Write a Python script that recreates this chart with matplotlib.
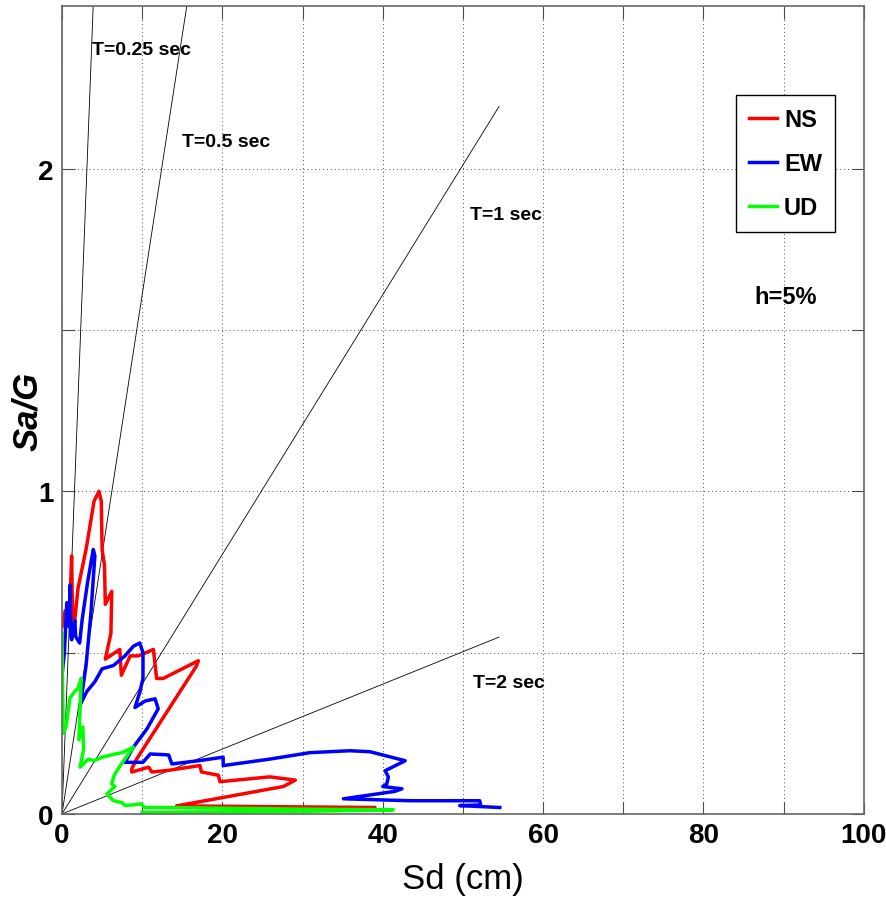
import numpy as np
import matplotlib
matplotlib.use('Agg')
import matplotlib.pyplot as plt

plt.rcParams['font.family'] = ['Liberation Sans', 'DejaVu Sans']

# response spectra (Sd in cm, Sa in g)
ns_sd = [0, 0.4, 0.7, 1.0, 1.2, 1.3, 1.5, 2.0, 3.0, 4.0, 4.6, 4.9, 5.0, 5.3, 5.4, 6.2,
         6.1, 5.4, 7.2, 7.4, 8.5, 9.5, 11.4, 11.8, 12.6, 17.0, 16.8, 9.3, 8.7, 8.7,
         10.8, 11.2, 13.2, 17.2, 17.4, 19.5, 19.7, 25.9, 29.1, 27.6, 14.3, 39.0]
ns_sa = [0.58, 0.63, 0.60, 0.65, 0.80, 0.64, 0.58, 0.70, 0.82, 0.97, 1.00, 0.97, 0.82,
         0.77, 0.65, 0.69, 0.56, 0.48, 0.51, 0.43, 0.49, 0.49, 0.51, 0.42, 0.42, 0.475,
         0.46, 0.17, 0.14, 0.13, 0.145, 0.13, 0.135, 0.15, 0.13, 0.12, 0.10, 0.115,
         0.105, 0.085, 0.025, 0.02]

ew_sd = [0, 0.3, 0.6, 0.9, 1.0, 1.1, 1.2, 1.6, 1.7, 2.2, 2.5, 3.2, 3.9, 4.1, 3.6, 3.0,
         2.3, 3.1, 4.1, 5.0, 6.4, 7.85, 8.9, 9.7, 10.1, 10.1, 9.7, 9.1, 10.35, 11.6,
         12.0, 10.6, 8.9, 7.85, 10.1, 11.0, 13.3, 13.7, 17.0, 20.1, 20.1, 25.9, 30.9,
         35.9, 38.4, 42.8, 40.3, 40.7, 40.5, 40.0, 42.4, 41.5, 35.1, 43.4, 52.1, 52.2,
         49.6, 54.6]
ew_sa = [0.43, 0.50, 0.655, 0.58, 0.71, 0.55, 0.54, 0.60, 0.55, 0.53, 0.60, 0.72, 0.82,
         0.80, 0.62, 0.46, 0.34, 0.38, 0.41, 0.45, 0.46, 0.49, 0.52, 0.53, 0.50, 0.42,
         0.377, 0.33, 0.35, 0.357, 0.326, 0.264, 0.207, 0.16, 0.16, 0.186, 0.183, 0.155,
         0.165, 0.176, 0.15, 0.17, 0.19, 0.196, 0.193, 0.165, 0.134, 0.115, 0.093, 0.085,
         0.078, 0.07, 0.047, 0.041, 0.041, 0.028, 0.026, 0.02]

ud_sd = [0, 0.15, 0.5, 1.0, 1.6, 2.0, 2.4, 2.1, 2.6, 2.7, 2.25, 3.3, 4.0, 5.0, 6.5, 7.5,
         8.9, 7.4, 6.5, 6.2, 6.6, 5.6, 6.4, 7.5, 7.85, 9.9, 10.3, 12.6, 20.0, 30.0, 41.3,
         30.0, 10.0]
ud_sa = [0.56, 0.25, 0.27, 0.36, 0.38, 0.39, 0.42, 0.23, 0.27, 0.20, 0.145, 0.17, 0.165,
         0.176, 0.185, 0.19, 0.207, 0.155, 0.12, 0.093, 0.085, 0.062, 0.041, 0.035,
         0.026, 0.031, 0.02, 0.02, 0.018, 0.015, 0.013, 0.008, 0.005]

periods = [0.25, 0.5, 1, 2]
period_labels = ['T=0.25 sec', 'T=0.5 sec', 'T=1 sec', 'T=2 sec']
sd_end = 54.5

fig = plt.figure(figsize=(8.87, 9.03), dpi=100)
ax = fig.add_axes([0.0699, 0.0975, 0.904, 0.8948])

# constant period lines: Sa = (2*pi/T)^2 * Sd / g
sd_line = np.array([0, sd_end])
for T in periods:
    sa_line = (2 * np.pi / T) ** 2 * sd_line / 100 / 9.81
    ax.plot(sd_line, sa_line, color='k', lw=0.6)

ax.plot(ns_sd, ns_sa, color='#ff0000', lw=2.5, label='NS')
ax.plot(ew_sd, ew_sa, color='#0000ff', lw=2.5, label='EW')
ax.plot(ud_sd, ud_sa, color='#00ff00', lw=2.5, label='UD')

tfont = dict(fontsize=14, fontweight='bold', va='center', ha='left')
ax.text(3.7, 2.37, period_labels[0], **tfont)
ax.text(15.0, 2.085, period_labels[1], **tfont)
ax.text(50.9, 1.857, period_labels[2], **tfont)
ax.text(51.2, 0.406, period_labels[3], **tfont)
ax.text(86.4, 1.603, 'h=5%', fontsize=17, fontweight='bold', va='center', ha='left')

ax.set_xlim(0, 100)
ax.set_ylim(0, 2.505)
ax.set_xticks(np.arange(0, 101, 10))
ax.set_xticklabels(['0', '', '20', '', '40', '', '60', '', '80', '', '100'])
ax.set_yticks([0, 0.5, 1, 1.5, 2])
ax.set_yticklabels(['0', '', '1', '', '2'])
ax.grid(True, linestyle=(0, (1, 3)), color='0.3', lw=0.7)
ax.tick_params(direction='in', length=9, top=True, right=True, labelsize=20, pad=6,
               color='0.3')
for lab in ax.get_xticklabels() + ax.get_yticklabels():
    lab.set_fontweight('bold')
for s in ax.spines.values():
    s.set_color('0.4')
    s.set_linewidth(1.2)

ax.set_xlabel('Sd (cm)', fontsize=25, labelpad=10)
ax.set_ylabel('Sa/G', fontsize=25, fontweight='bold', fontstyle='italic', labelpad=-4)

leg = ax.legend(loc='upper left', bbox_to_anchor=(0.840, 0.890), borderaxespad=0,
                fancybox=False, edgecolor='k', framealpha=1, handlelength=1.2,
                handletextpad=0.3, labelspacing=0.9, borderpad=0.55,
                prop={'size': 17, 'weight': 'bold'})
leg.get_frame().set_linewidth(1.0)

plt.savefig('out.png', dpi=100)
